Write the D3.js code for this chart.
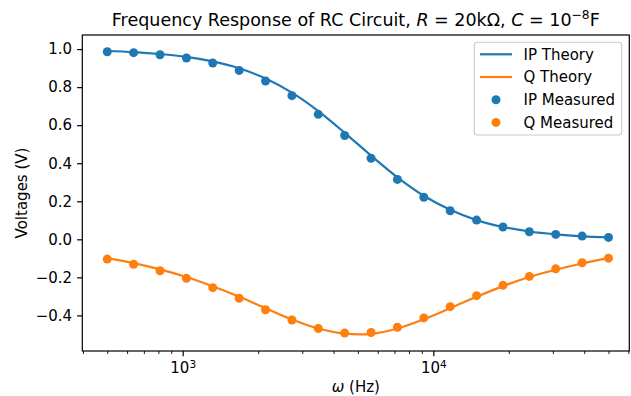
<!DOCTYPE html>
<html>
<head>
<meta charset="utf-8">
<script src="https://cdn.jsdelivr.net/npm/d3@7"></script>
<style>
  body { margin: 0; background: #fff; }
  text { font-family: "DejaVu Sans", sans-serif; }
</style>
</head>
<body>
<div id="chart"></div>
<script>
// angular frequencies of the sweep (Hz)
const omega = [500, 637, 812, 1035, 1318, 1680, 2141, 2728, 3476, 4429,
  5644, 7192, 9165, 11679, 14882, 18964, 24165, 30793, 39238, 50000];

// theory curves
const ipTheory = [0.990, 0.984, 0.974, 0.959, 0.935, 0.899, 0.845, 0.771, 0.674, 0.560,
  0.440, 0.326, 0.229, 0.155, 0.101, 0.065, 0.041, 0.026, 0.016, 0.010];
const qTheory = [-0.099, -0.125, -0.158, -0.198, -0.247, -0.302, -0.362, -0.421, -0.469, -0.496,
  -0.497, -0.469, -0.420, -0.362, -0.302, -0.246, -0.198, -0.160, -0.127, -0.099];

// measured points
const ipMeasured = [0.986, 0.981, 0.970, 0.953, 0.927, 0.888, 0.832, 0.755, 0.657, 0.546,
  0.426, 0.315, 0.221, 0.150, 0.101, 0.065, 0.040, 0.026, 0.017, 0.010];
const qMeasured = [-0.104, -0.131, -0.165, -0.205, -0.254, -0.310, -0.370, -0.424, -0.469, -0.493,
  -0.490, -0.462, -0.413, -0.354, -0.296, -0.242, -0.195, -0.155, -0.123, -0.099];

// ticks
const xMajor = [1000, 10000];
const xMinor = [400, 500, 600, 700, 800, 900, 2000, 3000, 4000, 5000, 6000, 7000, 8000, 9000,
  20000, 30000, 40000, 50000, 60000];
const yTicks = [-0.4, -0.2, 0.0, 0.2, 0.4, 0.6, 0.8, 1.0];

const legendItems = [
  {label: "IP Theory", color: "#1f77b4", type: "line"},
  {label: "Q Theory", color: "#ff7f0e", type: "line"},
  {label: "IP Measured", color: "#1f77b4", type: "dot"},
  {label: "Q Measured", color: "#ff7f0e", type: "dot"}
];

var W = 631, H = 396;
// plot area edges in pixels (note: "top" is reserved on window)
var m = {left: 82.3, right: 629.3, top: 35, bottom: 351};

var svg = d3.select("#chart").append("svg")
  .attr("width", W).attr("height", H);

var x = d3.scaleLog()
  .domain([Math.pow(10, 2.5994), Math.pow(10, 4.782)])
  .range([m.left, m.right]);

var y = d3.scaleLinear()
  .domain([-0.587, 1.074])
  .range([m.bottom, m.top]);

// minor x ticks
svg.append("g")
  .attr("transform", "translate(0," + m.bottom + ")")
  .call(d3.axisBottom(x).tickValues(xMinor).tickSize(3).tickFormat(""))
  .call(g => g.select(".domain").remove())
  .call(g => g.selectAll("line").attr("stroke-width", 0.9));

// major x ticks with superscript labels
var xAx = svg.append("g")
  .attr("transform", "translate(0," + m.bottom + ")")
  .call(d3.axisBottom(x).tickValues(xMajor).tickSize(5.2).tickFormat(""))
  .call(g => g.select(".domain").remove())
  .call(g => g.selectAll("line").attr("stroke-width", 1.2));

xAx.selectAll(".tick text")
  .attr("fill", "#000")
  .attr("font-size", "15px")
  .attr("y", 22.3)
  .attr("dy", 0)
  .each(function(d) {
    var t = d3.select(this);
    t.append("tspan").text("10");
    t.append("tspan").attr("font-size", "10.5px").attr("dy", -5.5)
      .text(Math.round(Math.log10(d)));
  });

// y axis
svg.append("g")
  .attr("transform", "translate(" + m.left + ",0)")
  .call(d3.axisLeft(y).tickValues(yTicks).tickSize(5.2).tickPadding(5).tickFormat(d3.format(".1f")))
  .call(g => g.select(".domain").remove())
  .call(g => g.selectAll("line").attr("stroke-width", 1.2))
  .call(g => g.selectAll("text").attr("font-size", "15px").attr("fill", "#000"));

// theory lines
var line = d3.line()
  .x(function(d) { return x(d[0]); })
  .y(function(d) { return y(d[1]); })
  .curve(d3.curveCatmullRom);

svg.append("path")
  .datum(omega.map((w, i) => [w, ipTheory[i]]))
  .attr("d", line)
  .attr("fill", "none")
  .attr("stroke", "#1f77b4")
  .attr("stroke-width", 2.2);

svg.append("path")
  .datum(omega.map((w, i) => [w, qTheory[i]]))
  .attr("d", line)
  .attr("fill", "none")
  .attr("stroke", "#ff7f0e")
  .attr("stroke-width", 2.2);

// measured dots
svg.append("g").selectAll("circle")
  .data(omega.map((w, i) => [w, ipMeasured[i]]))
  .enter().append("circle")
  .attr("cx", d => x(d[0]))
  .attr("cy", d => y(d[1]))
  .attr("r", 4.5)
  .attr("fill", "#1f77b4");

svg.append("g").selectAll("circle")
  .data(omega.map((w, i) => [w, qMeasured[i]]))
  .enter().append("circle")
  .attr("cx", d => x(d[0]))
  .attr("cy", d => y(d[1]))
  .attr("r", 4.5)
  .attr("fill", "#ff7f0e");

// frame
svg.append("rect")
  .attr("x", m.left).attr("y", m.top)
  .attr("width", m.right - m.left).attr("height", m.bottom - m.top)
  .attr("fill", "none")
  .attr("stroke", "#000")
  .attr("stroke-width", 1.2);

// legend
var lg = svg.append("g");
lg.append("rect")
  .attr("x", 474.3).attr("y", 42.3)
  .attr("width", 147.4).attr("height", 92.7)
  .attr("rx", 3)
  .attr("fill", "#fff").attr("fill-opacity", 0.8)
  .attr("stroke", "#cccccc").attr("stroke-width", 1.1);

legendItems.forEach(function(item, i) {
  var ly = 54.3 + i * 22.7;
  if (item.type == "line") {
    lg.append("line")
      .attr("x1", 480).attr("x2", 512)
      .attr("y1", ly).attr("y2", ly)
      .attr("stroke", item.color).attr("stroke-width", 2.2);
  } else {
    lg.append("circle")
      .attr("cx", 496).attr("cy", ly).attr("r", 4.5)
      .attr("fill", item.color);
  }
  lg.append("text")
    .attr("x", 523.5).attr("y", ly + 5.4)
    .attr("font-size", "15px")
    .text(item.label);
});

// title
var title = svg.append("text")
  .attr("x", (m.left + m.right) / 2).attr("y", 26)
  .attr("text-anchor", "middle")
  .attr("font-size", "17.5px");
title.append("tspan").text("Frequency Response of RC Circuit, ");
title.append("tspan").attr("font-style", "italic").text("R");
title.append("tspan").text(" = 20kΩ, ");
title.append("tspan").attr("font-style", "italic").text("C");
title.append("tspan").text(" = 10");
title.append("tspan").attr("font-size", "12.3px").attr("dy", -7).text("−8");
title.append("tspan").attr("dy", 7).text("F");

// axis labels
var xl = svg.append("text")
  .attr("x", (m.left + m.right) / 2).attr("y", 392)
  .attr("text-anchor", "middle")
  .attr("font-size", "15px");
xl.append("tspan").attr("font-style", "italic").text("ω");
xl.append("tspan").text(" (Hz)");

svg.append("text")
  .attr("transform", "translate(26.5," + ((m.top + m.bottom) / 2) + ") rotate(-90)")
  .attr("text-anchor", "middle")
  .attr("font-size", "15px")
  .text("Voltages (V)");
</script>
</body>
</html>
